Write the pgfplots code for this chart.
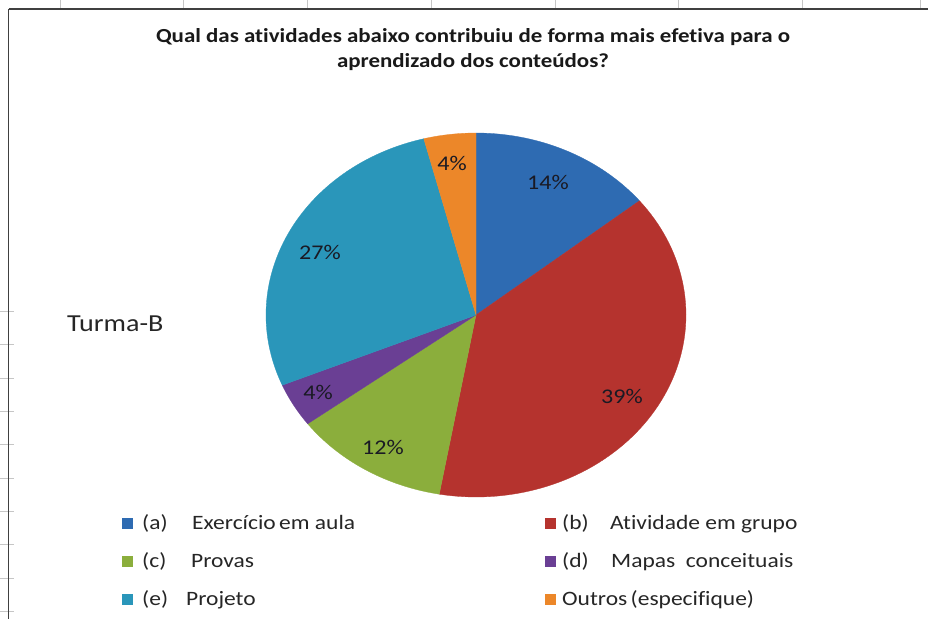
\documentclass[border=0pt]{standalone}
\usepackage{pgfplots}
\pgfplotsset{compat=1.18}
\usepackage{fontspec}
\setmainfont{Carlito}[Ligatures=NoCommon]
\newfontfamily\wide{Carlito}[FakeStretch=1.15, Ligatures=NoCommon]
\definecolor{cA}{HTML}{2E6BB2}
\definecolor{cB}{HTML}{B5332E}
\definecolor{cC}{HTML}{8BAE3C}
\definecolor{cD}{HTML}{6A3F94}
\definecolor{cE}{HTML}{2A96BA}
\definecolor{cF}{HTML}{EC8729}
\definecolor{lbl}{HTML}{1A1A24}
% start (cumulative %) and value (%) of each slice, clockwise from 12 o'clock
\newcommand{\slice}[3]{%
  \addplot[fill=#3, draw=#3, line width=0.3bp, domain={90-3.6*(#1+#2)}:{90-3.6*#1}, samples=80, variable=\t]
    ({cos(\t)},{sin(\t)}) -- (axis cs:0,0) -- cycle;}
\begin{document}
\begin{tikzpicture}
\path[use as bounding box] (0,0) rectangle (928bp,-619bp);
\clip (0,0) rectangle (928bp,-619bp);
\fill[white] (0,0) rectangle (928bp,-619bp);
\begin{scope}[x=1bp,y=-1bp]
  % spreadsheet grid ticks outside the chart area
  \foreach \yy in {311,344,378,411,444,478,511,544,578,611}
    \draw[gray!45, line width=0.8bp] (0,\yy) -- (14,\yy);
  \foreach \xx in {60,183,307,431,555,678,802,920}
    \draw[gray!45, line width=0.8bp] (\xx,0) -- (\xx,9);
  \draw[black!75, line width=1.3bp] (8.5,9) -- (8.5,640);
  \draw[black!75, line width=1.3bp] (8.5,9) -- (940,9);
  % title
  \node[font=\wide\bfseries\fontsize{20}{25}\selectfont, align=center, text=black!90] at (473,50)
    {Qual das atividades abaixo contribuiu\ de forma mais efetiva para o\\aprendizado dos conteúdos?};
  % side label
  \node[anchor=west, font=\wide\fontsize{24.5}{28}\selectfont, text=black!85, inner sep=0] at (67,324) {Turma-B};
  % legend
  \begin{scope}[every node/.style={anchor=base west, inner sep=0, font=\wide\fontsize{20.5}{24}\selectfont, text=black!85}]
    \fill[cA] (122,518) rectangle (133,529);
    \node at (142,529) {(a)}; \node at (192,529) {Exercício\,em aula};
    \fill[cC] (122,556) rectangle (133,567);
    \node at (142,567) {(c)}; \node at (191,567) {Provas};
    \fill[cE] (122,594) rectangle (133,605);
    \node at (142,605) {(e)}; \node at (186,605) {Projeto};
    \fill[cB] (545,518) rectangle (556,529);
    \node at (562,529) {(b)}; \node at (610,529) {Atividade em grupo};
    \fill[cD] (545,556) rectangle (556,567);
    \node at (562,567) {(d)}; \node at (611,567) {Mapas\ \ conceituais};
    \fill[cF] (545,594) rectangle (556,605);
    \node at (562,605) {Outros\,(especifique)};
  \end{scope}
\end{scope}
\begin{axis}[at={(476bp,-315bp)}, anchor=center, scale only axis,
  width=420bp, height=364bp, hide axis, clip=false,
  xmin=-1, xmax=1, ymin=-1, ymax=1]
  \slice{0}{14.2}{cA}
  \slice{14.2}{38.6}{cB}
  \slice{52.8}{12.0}{cC}
  \slice{64.8}{3.9}{cD}
  \slice{68.7}{27.3}{cE}
  \slice{96.0}{4.0}{cF}
  \begin{scope}[every node/.style={font=\wide\fontsize{21}{24}\selectfont, text=lbl}]
    \node at (axis cs:0.343,0.730) {14\%};
    \node at (axis cs:0.695,-0.446) {39\%};
    \node at (axis cs:-0.443,-0.725) {12\%};
    \node at (axis cs:-0.752,-0.423) {4\%};
    \node at (axis cs:-0.743,0.341) {27\%};
    \node at (axis cs:-0.114,0.835) {4\%};
  \end{scope}
\end{axis}
\end{tikzpicture}
\end{document}
